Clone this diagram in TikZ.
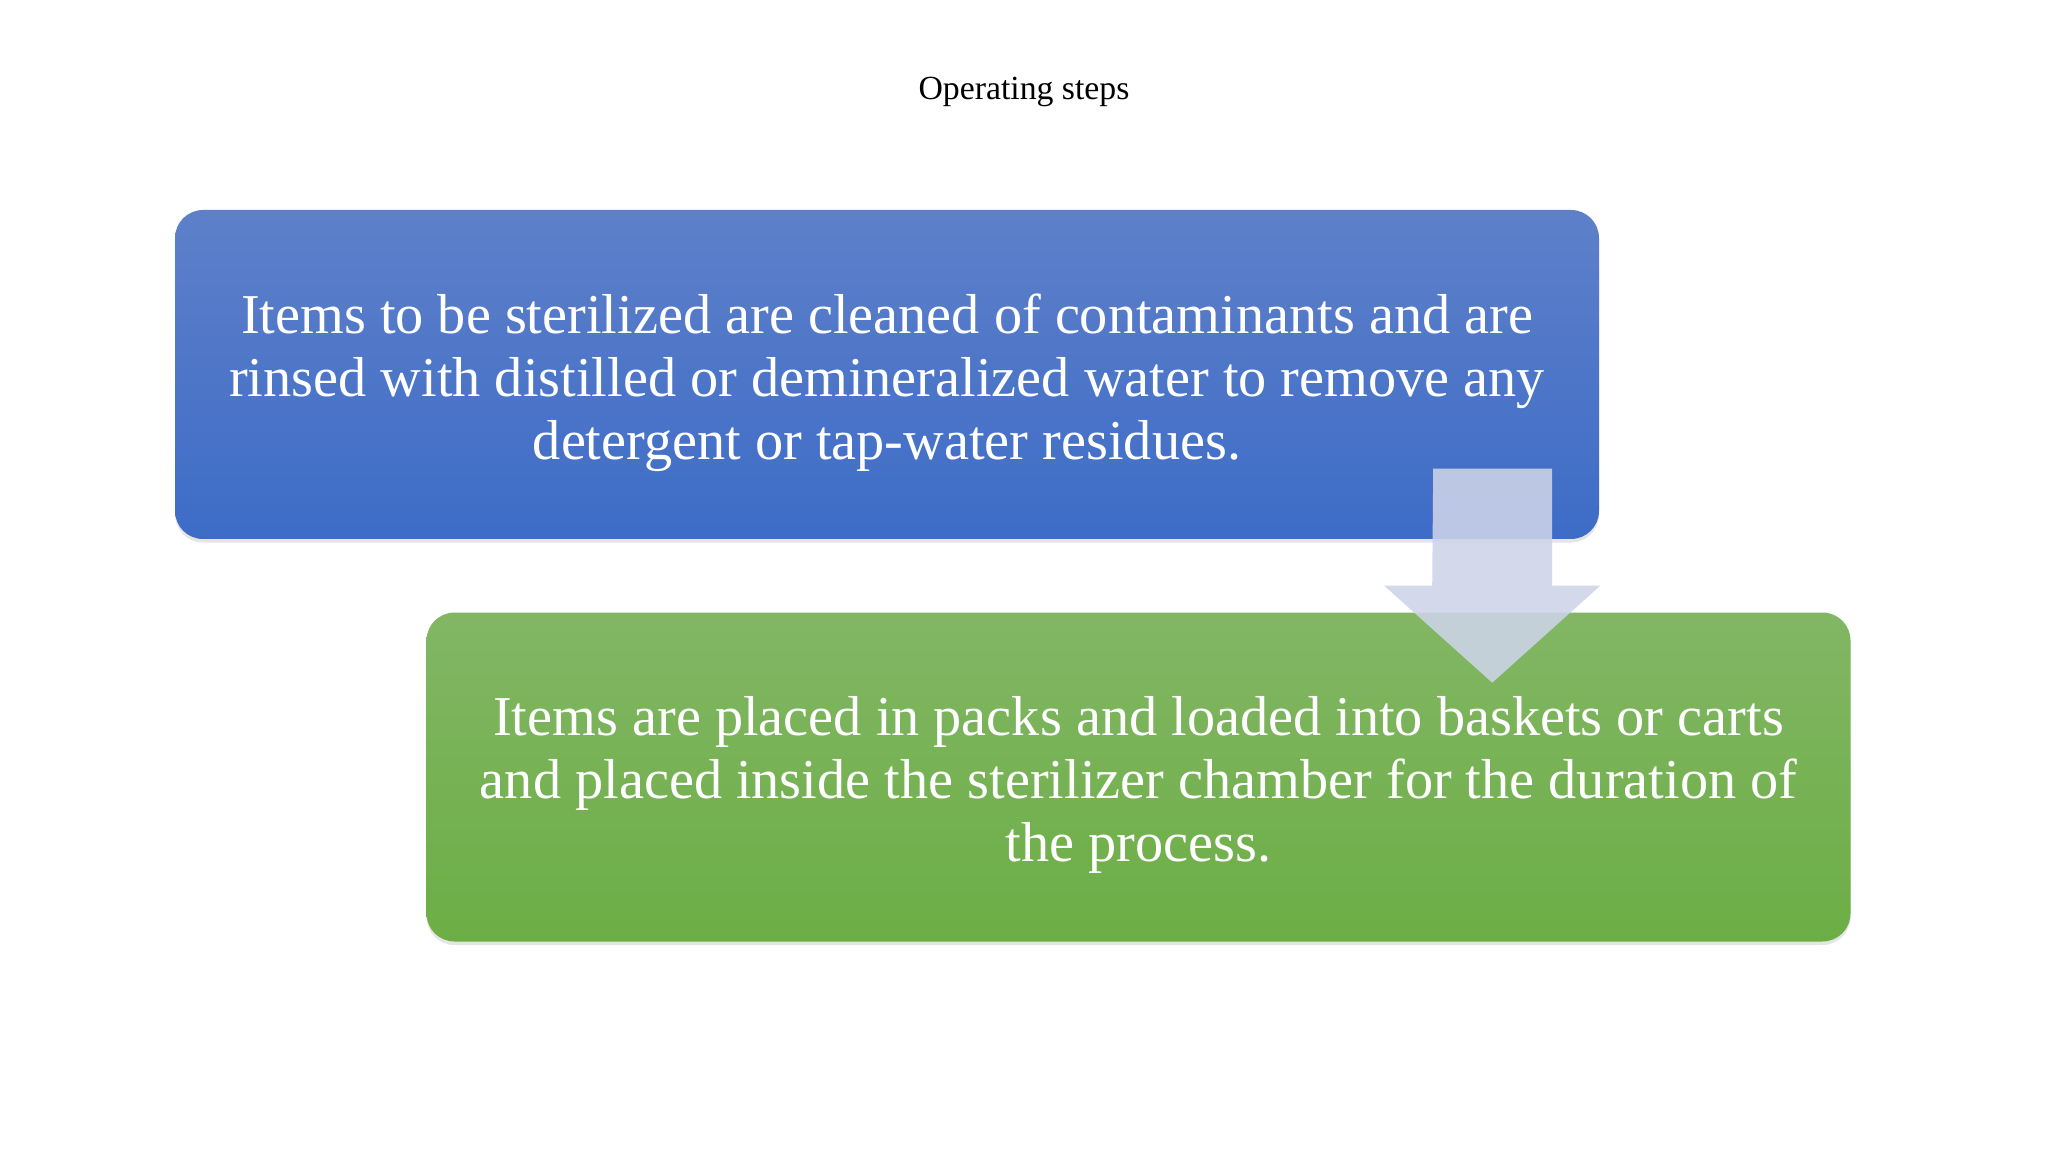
\documentclass[tikz,border=0pt]{standalone}
\usepackage{fontspec}
\setmainfont{Liberation Serif}
\usetikzlibrary{shadows,calc}
\definecolor{bluetop}{HTML}{5E80C9}
\definecolor{bluebot}{HTML}{3D6CC7}
\definecolor{greentop}{HTML}{82B664}
\definecolor{greenbot}{HTML}{6CAE45}
\definecolor{arrowcol}{HTML}{CDD4E9}
\begin{document}
\begin{tikzpicture}[x=0.01cm,y=-0.01cm,
  stepbox/.style={rounded corners=28*0.01cm, minimum width=1424*0.01cm, minimum height=329*0.01cm,
     align=center, text=white, font=\fontsize{16}{17.9}\selectfont,
     drop shadow={shadow xshift=0pt,shadow yshift=-1pt,opacity=0.2}},
  bluebox/.style={stepbox, top color=bluetop, bottom color=bluebot},
  greenbox/.style={stepbox, top color=greentop, bottom color=greenbot},
  flowarrow/.style={fill=arrowcol, fill opacity=0.88, draw=none}]
\useasboundingbox (0,0) rectangle (2048,1152);
\fill[white] (0,0) rectangle (2048,1152);
\node[font=\fontsize{9.6}{11}\selectfont] (title) at (1024,92) {Operating steps};
\node[bluebox] (s1) at (887,374.5) {\raisebox{-2.6pt}[\height][\depth]{\begin{tabular}{@{}c@{}}Items to be sterilized are cleaned of contaminants and are\\ rinsed with distilled or demineralized water to remove any\\ detergent or tap-water residues.\end{tabular}}};
\node[greenbox] (s2) at (1138.5,777) {\raisebox{-2.6pt}[\height][\depth]{\begin{tabular}{@{}c@{}}Items are placed in packs and loaded into baskets or carts\\ and placed inside the sterilizer chamber for the duration of\\ the process.\end{tabular}}};
\coordinate (atop) at ($(s1.south east)+(-107,-71)$);
\path[flowarrow] (atop) ++(-59.5,0) -- ++(119,0) -- ++(0,117) -- ++(48,0) -- ++(-108,97) -- ++(-108,-97) -- ++(48,0) -- cycle;
\end{tikzpicture}
\end{document}
